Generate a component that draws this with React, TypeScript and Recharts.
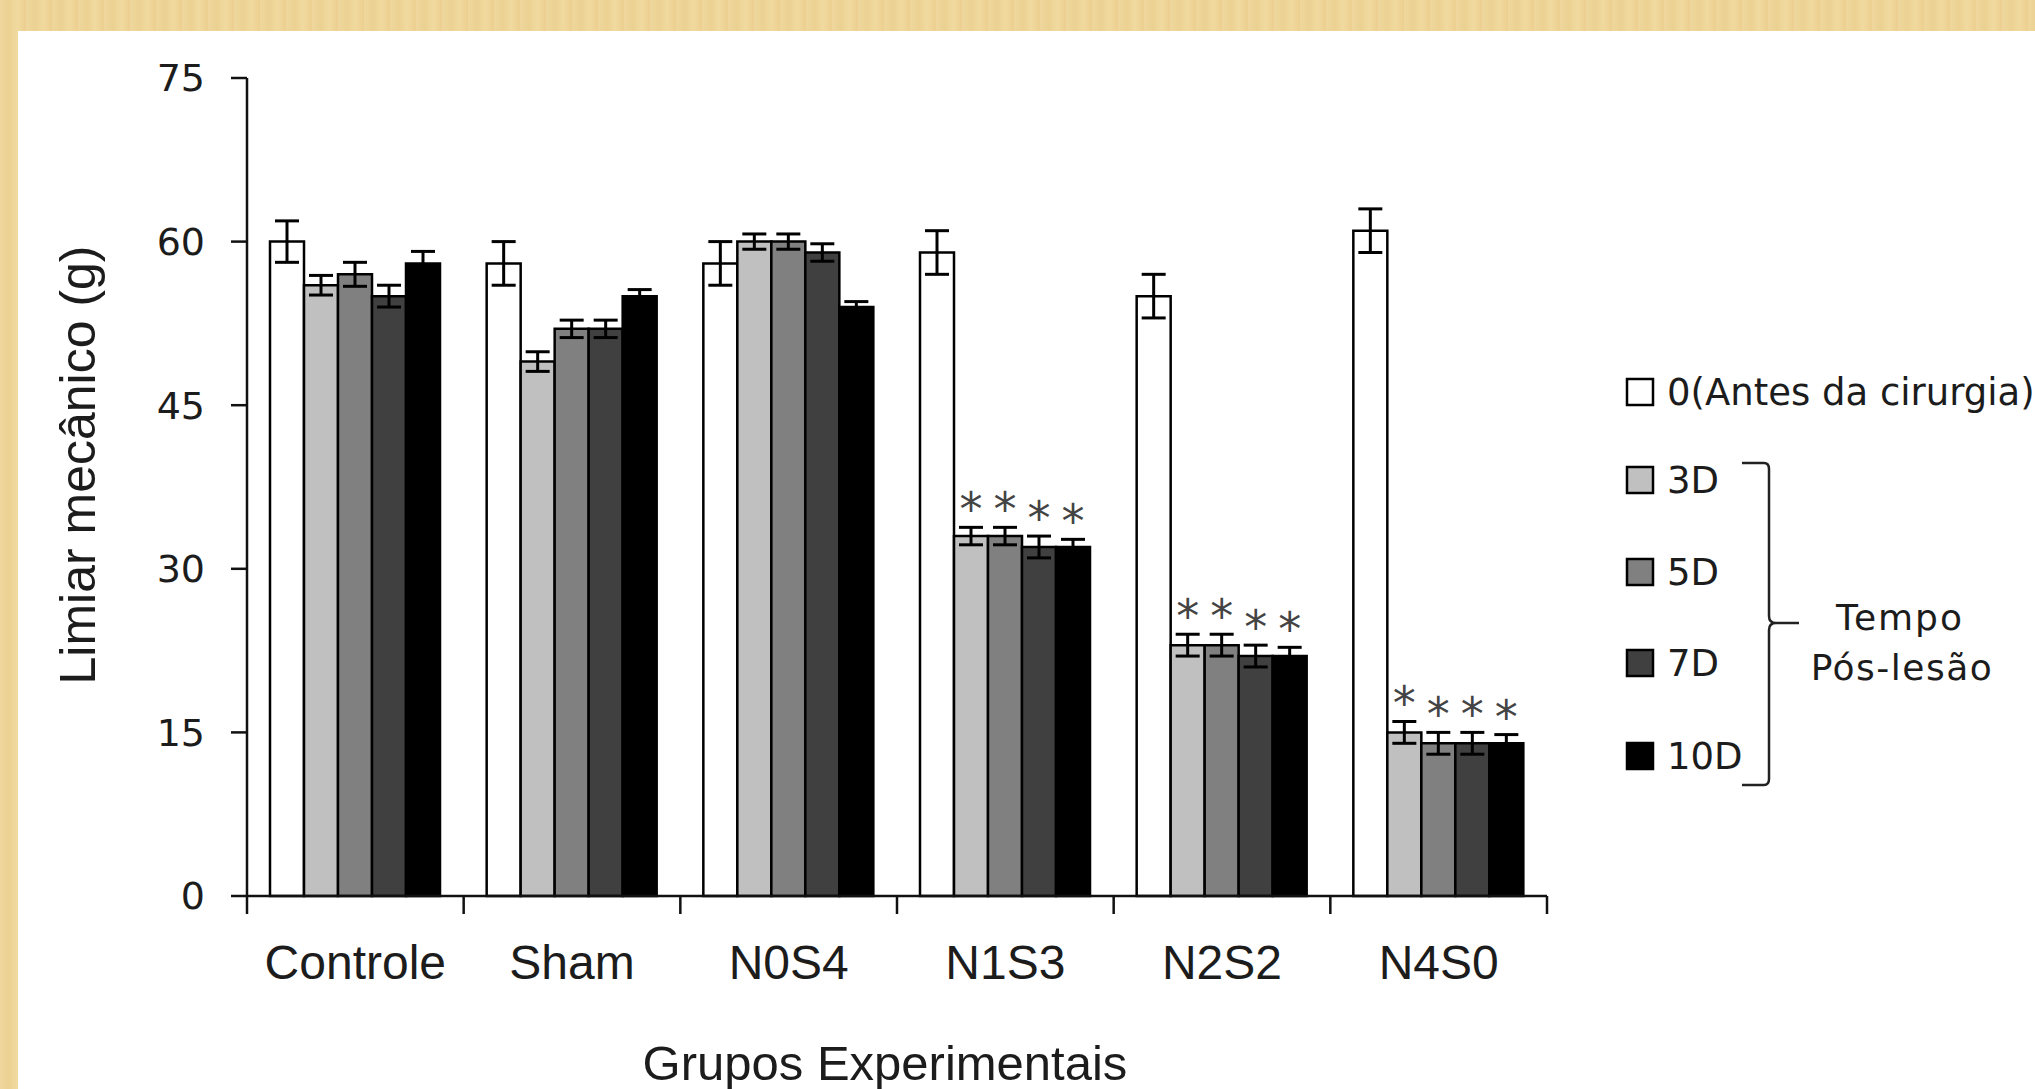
import React from 'react';
import { BarChart, Bar, XAxis, YAxis, ErrorBar, Legend, Label } from 'recharts';

const categories = ['Controle', 'Sham', 'N0S4', 'N1S3', 'N2S2', 'N4S0'];
const seriesNames = ['0(Antes da cirurgia)', '3D', '5D', '7D', '10D'];
const seriesColors = ['#ffffff', '#c0c0c0', '#808080', '#404040', '#000000'];

const v0 = [60, 58, 58, 59, 55, 61];
const v3 = [56, 49, 60, 33, 23, 15];
const v5 = [57, 52, 60, 33, 23, 14];
const v7 = [55, 52, 59, 32, 22, 14];
const v10 = [58, 55, 54, 32, 22, 14];

const e0 = [1.9, 2.0, 2.0, 2.0, 2.0, 2.0];
const e3 = [0.9, 0.9, 0.7, 0.8, 1.0, 1.0];
const e5 = [1.1, 0.8, 0.7, 0.8, 1.0, 1.0];
const e7 = [1.0, 0.8, 0.8, 1.0, 1.0, 1.0];
const e10 = [1.1, 0.6, 0.5, 0.7, 0.8, 0.8];

const significant = [false, false, false, true, true, true];
const yTicks = [0, 15, 30, 45, 60, 75];

const data = categories.map((c, i) => ({
  name: c,
  v0: v0[i], v3: v3[i], v5: v5[i], v7: v7[i], v10: v10[i],
  e0: e0[i], e3: e3[i], e5: e5[i], e7: e7[i], e10: e10[i],
}));

const AXIS = '#111';
const TXT = '#1c1c1c';

const starLabel = (errs: number[]) => (props: any) => {
  const { x, y, width, height, value, index } = props;
  if (!significant[index] || !value) return null;
  const pxPerUnit = height / value;
  const top = y - errs[index] * pxPerUnit;
  return (
    <text x={x + width / 2} y={top - 2} textAnchor="middle" fontSize={46}
      fill="#444" fontFamily="DejaVu Sans">*</text>
  );
};

const CategoryTick = (props: any) => {
  const { x, y, payload, index, width } = props;
  const half = payload && payload.offset ? payload.offset : width / categories.length / 2;
  return (
    <g>
      <line x1={x - half} y1={y} x2={x - half} y2={y + 18} stroke={AXIS} strokeWidth={2.5} />
      {index === categories.length - 1 && (
        <line x1={x + half} y1={y} x2={x + half} y2={y + 18} stroke={AXIS} strokeWidth={2.5} />
      )}
      <text x={x} y={y + 83} textAnchor="middle" fontSize={48}
        fontFamily="Liberation Sans, Arial, sans-serif" fill={TXT}>{payload.value}</text>
    </g>
  );
};

const rowY = [32, 120, 212, 303, 396];

const LegendContent = (props: any) => {
  const payload = [...(props.payload || [])].sort(
    (a: any, b: any) => seriesNames.indexOf(a.value) - seriesNames.indexOf(b.value));
  return (
    <svg width={415} height={450} style={{ overflow: 'visible' }}>
      {payload.map((p: any, i: number) => (
        <g key={i}>
          <rect x={3} y={rowY[i] - 13} width={26} height={26} fill={p.color}
            stroke="#000" strokeWidth={2.5} />
          <text x={43} y={rowY[i]} dominantBaseline="central" fontSize={37}
            fontFamily="DejaVu Sans, sans-serif" fill={TXT}>{p.value}</text>
        </g>
      ))}
      <path d="M118,103 L140,103 Q145,103 145,109 L145,256 Q145,263 152,263 L175,263 M152,263 Q145,263 145,270 L145,419 Q145,425 140,425 L118,425"
        fill="none" stroke="#222" strokeWidth={2.5} />
      <text x={276} y={257} textAnchor="middle" dominantBaseline="central" fontSize={36}
        letterSpacing={2} fontFamily="DejaVu Sans, sans-serif" fill={TXT}>Tempo</text>
      <text x={278} y={307} textAnchor="middle" dominantBaseline="central" fontSize={36}
        letterSpacing={1.5} fontFamily="DejaVu Sans, sans-serif" fill={TXT}>Pós-lesão</text>
    </svg>
  );
};

export default function App() {
  const keys = ['v0', 'v3', 'v5', 'v7', 'v10'];
  const errKeys = ['e0', 'e3', 'e5', 'e7', 'e10'];
  const errArrays = [e0, e3, e5, e7, e10];
  return (
    <div style={{ position: 'absolute', left: 0, top: 0, width: 2035, height: 1089, overflow: 'hidden',
      background: 'repeating-linear-gradient(90deg, #efd79d 0px, #ebd192 9px, #f1da9f 17px, #eccf90 26px)' }}>
      <div style={{ position: 'absolute', left: 18, top: 31, right: 0, bottom: 0, background: '#ffffff' }} />
      <div style={{ position: 'absolute', left: 0, top: 0 }}>
        <BarChart width={2035} height={1089} data={data}
          margin={{ top: 78, right: 488, bottom: 0, left: 47 }}
          barSize={34} barGap={0}>
          <XAxis dataKey="name" height={193} tickSize={0} tickMargin={0} tickLine={false}
            axisLine={{ stroke: AXIS, strokeWidth: 2.5 }} tick={<CategoryTick />} interval={0}>
            <Label content={(p: any) => {
              const vb = p.viewBox;
              return (
                <text x={vb.x + vb.width / 2 - 12} y={1080} textAnchor="middle" fontSize={49}
                  fontFamily="Liberation Sans, Arial, sans-serif" fill={TXT}>Grupos Experimentais</text>
              );
            }} />
          </XAxis>
          <YAxis width={200} domain={[0, 75]} ticks={yTicks} interval={0} tickSize={16} tickMargin={26}
            axisLine={{ stroke: AXIS, strokeWidth: 2.5 }} tickLine={{ stroke: AXIS, strokeWidth: 2.5 }}
            tick={{ fontSize: 38, fontFamily: 'DejaVu Sans, sans-serif', fill: TXT }}>
            <Label content={(p: any) => {
              const vb = p.viewBox;
              const cx = vb.x + 31;
              const cy = vb.y + vb.height / 2 - 22;
              return (
                <text x={cx} y={cy} transform={`rotate(-90, ${cx}, ${cy})`} textAnchor="middle"
                  dominantBaseline="central" fontSize={50} fontFamily="Liberation Sans, Arial, sans-serif"
                  fill={TXT}>Limiar mecânico (g)</text>
              );
            }} />
          </YAxis>
          <Legend layout="vertical" align="center" verticalAlign="middle" content={<LegendContent />}
            wrapperStyle={{ left: 1624, top: 360, width: 415, height: 450 }} />
          {keys.map((k, i) => (
            <Bar key={k} dataKey={k} name={seriesNames[i]} fill={seriesColors[i]} stroke="#000"
              strokeWidth={2.5} isAnimationActive={false}
              label={i === 0 ? undefined : starLabel(errArrays[i])}>
              <ErrorBar dataKey={errKeys[i]} width={12} stroke="#000" strokeWidth={3} direction="y" />
            </Bar>
          ))}
        </BarChart>
      </div>
    </div>
  );
}
